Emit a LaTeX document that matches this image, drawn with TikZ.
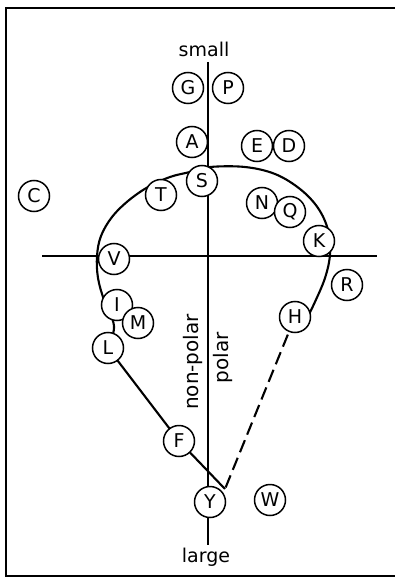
\documentclass[tikz,border=0pt]{standalone}
\usepackage{fontspec}
\setmainfont{DejaVu Sans}
\usetikzlibrary{backgrounds}
\begin{document}
\begin{tikzpicture}[x=1pt,y=-1pt,
  lab/.style={circle,draw,fill=white,line width=1.5pt,minimum size=31pt,inner sep=0pt,font=\fontsize{19}{19}\selectfont},
  axisline/.style={line width=1.5pt},
  curveline/.style={line width=2.1pt,line join=round},
  dashline/.style={line width=2.1pt,dash pattern=on 13pt off 6pt},
  txt/.style={font=\fontsize{19}{19}\selectfont,inner sep=0pt},
  rtxt/.style={font=\fontsize{20}{20}\selectfont,inner sep=0pt,rotate=90,anchor=base}]
\useasboundingbox (0,0) rectangle (395,577);
% frame
\draw[line width=2pt] (395,8.5) -- (6,8.5) -- (6,575.5) -- (395,575.5);
% texts
\node[txt,anchor=base] (small) at (204,57) {small};
\node[txt,anchor=base] (large) at (206,562) {large};
\node[rtxt] (np) at (198,362) {non-polar};
\node[rtxt] (pol) at (228,358) {polar};
% axis end points and vertex
\coordinate (ytop) at (208,62);
\coordinate (ybot) at (208,545);
\coordinate (xl) at (42,256);
\coordinate (xr) at (377,256);
\coordinate (vtx) at (225,489);
% circles
\node[lab] (G) at (188,88) {G};
\node[lab] (P) at (228,88) {P};
\node[lab] (A) at (192,142) {A};
\node[lab] (E) at (257,146) {E};
\node[lab] (D) at (289,146) {D};
\node[lab] (S) at (202,181) {S};
\node[lab] (T) at (161,195) {T};
\node[lab] (C) at (34,196) {C};
\node[lab] (N) at (262,203) {N};
\node[lab] (Q) at (290,212) {Q};
\node[lab] (K) at (319,241) {K};
\node[lab] (V) at (114,259) {V};
\node[lab] (R) at (347,285) {R};
\node[lab] (I) at (117,305) {I};
\node[lab] (M) at (138,323) {M};
\node[lab] (H) at (295,317) {H};
\node[lab] (L) at (108,348) {L};
\node[lab] (F) at (179,441) {F};
\node[lab] (Y) at (210,502) {Y};
\node[lab] (W) at (270,500) {W};
\begin{scope}[on background layer]
  \draw[axisline] (ytop) -- (ybot);
  \draw[axisline] (xl) -- (xr);
  \draw[curveline] plot[smooth,tension=0.6] coordinates {
    (L.center) (114,326) (104,300) (98,278) (97,256) (101,236) (112,217)
    (128,201) (148,187) (170,177) (190,172) (210,167) (245,167) (275,174)
    (300,189) (318,208) (328,230) (330,254) (325,278) (314,304) (307,318)};
  \draw[curveline] (L.center) -- (F.center) -- (vtx);
  \draw[dashline] (H.center) -- (vtx);
\end{scope}
\end{tikzpicture}
\end{document}
